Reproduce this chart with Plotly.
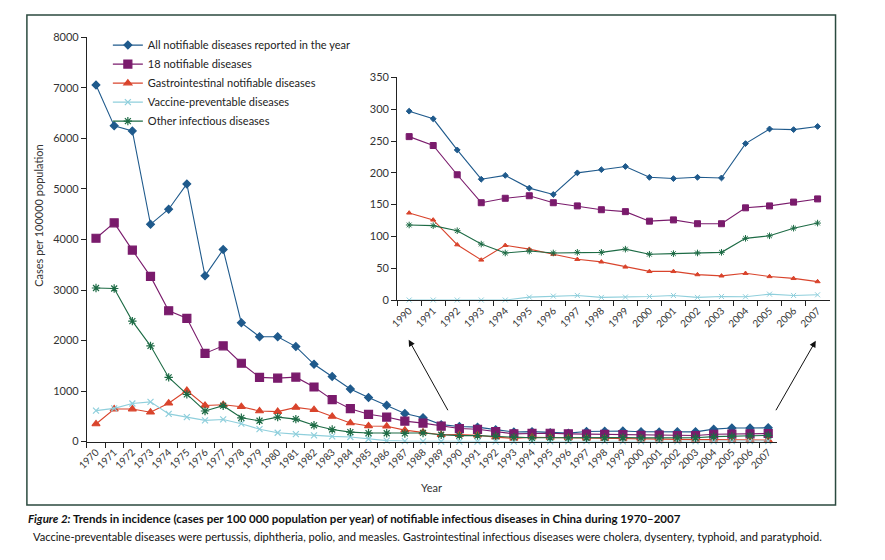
import plotly.graph_objects as go

years = [str(y) for y in range(1970, 2008)]
inset_years = years[20:]

all_notifiable = [7060, 6250, 6150, 4300, 4600, 5100, 3280, 3800, 2350, 2075, 2075, 1880, 1530, 1290, 1040,
                  870, 720, 555, 470, 335, 297, 285, 236, 190, 196, 176, 166, 200, 205, 210, 193, 191, 193,
                  192, 246, 269, 268, 273]
n18_notifiable = [4025, 4330, 3790, 3270, 2590, 2440, 1745, 1895, 1550, 1270, 1256, 1275, 1080, 830, 650,
                  540, 485, 405, 365, 305, 257, 243, 197, 153, 160, 164, 153, 148, 142, 139, 124, 126, 120,
                  120, 145, 148, 154, 159]
gastro = [348, 644, 644, 580, 760, 1010, 715, 728, 690, 605, 593, 676, 631, 496, 367, 309, 303, 226, 187,
          135, 137, 126, 87, 63, 86, 80, 72, 64, 60, 52, 45, 45, 40, 38, 42, 37, 34, 29]
vaccine = [612, 657, 754, 786, 548, 483, 419, 438, 354, 245, 174, 148, 122, 103, 90, 50, 19, 8, 4, 2,
           0, 0, 0, 0, 0, 4.6, 6.1, 7.2, 4.1, 4.6, 5.6, 7.2, 4.1, 5.6, 5.1, 9.2, 7.2, 8.2]
other = [3040, 3030, 2385, 1895, 1270, 935, 605, 710, 470, 412, 483, 444, 322, 238, 187, 168, 164, 160,
         170, 135, 118, 117, 109, 88, 74, 77, 74, 75, 75, 80, 72, 73, 74, 75, 97, 101, 113, 121]

series_names = ["All notifiable diseases reported in the year", "18 notifiable diseases",
                "Gastrointestinal notifiable diseases", "Vaccine-preventable diseases",
                "Other infectious diseases"]
series_values = [all_notifiable, n18_notifiable, gastro, vaccine, other]
colors = ["#1f5a8c", "#7a1b6c", "#d9442c", "#8fcfdc", "#1d6b45"]
symbols = ["diamond", "square", "triangle-up", "x-thin-open", "asterisk-open"]
main_sizes = [6, 8, 7, 6, 7]
inset_sizes = [4.5, 6, 4.5, 5, 5.5]

# page is offset by the default 8px body margin; keep the figure inside the 885x560 window
OFF = 8
W, H = 885 - 2 * OFF, 560 - 2 * OFF
FONT = "Lato"


def px(x):
    return (x - OFF) / W


def py(y):
    return (H - (y - OFF)) / H


fig = go.Figure()

for name, vals, c, s, ms, ims in zip(series_names, series_values, colors, symbols, main_sizes, inset_sizes):
    fig.add_trace(go.Scatter(
        x=years, y=vals, name=name, mode="lines+markers",
        line=dict(color=c, width=1.1),
        marker=dict(color=c, symbol=s, size=ms, line=dict(color=c, width=1.2)),
        cliponaxis=False, xaxis="x", yaxis="y"))
    fig.add_trace(go.Scatter(
        x=inset_years, y=vals[20:], name=name, mode="lines+markers", showlegend=False,
        line=dict(color=c, width=1.1),
        marker=dict(color=c, symbol=s, size=ims, line=dict(color=c, width=1.0)),
        cliponaxis=False, xaxis="x2", yaxis="y2"))

axis_common = dict(showline=True, linecolor="#222", linewidth=1, ticks="outside", ticklen=5,
                   tickcolor="#222", showgrid=False, zeroline=False,
                   tickfont=dict(family=FONT, size=10, color="#333"))
yfont = dict(family=FONT, size=11, color="#333")

fig.update_layout(
    width=W, height=H,
    margin=dict(l=0, r=0, t=0, b=0),
    paper_bgcolor="white", plot_bgcolor="rgba(0,0,0,0)",
    font=dict(family=FONT, color="#333"),
    xaxis=dict(domain=[px(76.8), px(776)], type="category", tickson="boundaries", tickangle=-45,
               range=[-0.5, len(years) - 0.5], anchor="y", **axis_common),
    yaxis=dict(domain=[py(445), py(31)], range=[0, 8000], tickvals=list(range(0, 8001, 1000)),
               anchor="x", **{**axis_common, "tickfont": yfont}),
    xaxis2=dict(domain=[px(391), px(829)], type="category", tickson="boundaries", tickangle=-45,
                range=[-0.5, len(inset_years) - 0.5], anchor="y2", **axis_common),
    yaxis2=dict(domain=[py(300), py(72)], range=[0, 350], tickvals=list(range(0, 351, 50)),
                anchor="x2", **{**axis_common, "tickfont": yfont}),
    legend=dict(x=px(98), y=py(24), xanchor="left", yanchor="top", bgcolor="rgba(0,0,0,0)",
                font=dict(family=FONT, size=11, color="#222"), tracegroupgap=0, itemwidth=30),
    showlegend=True,
)

fig.add_shape(type="rect", xref="paper", yref="paper", x0=px(16), x1=px(835), y0=py(510), y1=py(8),
              line=dict(color="#2b4a3f", width=1.5), fillcolor="rgba(0,0,0,0)")

annotations = [
    dict(text="Cases per 100000 population", x=px(27), y=py(214), textangle=-90, xanchor="center",
         font=dict(family=FONT, size=11, color="#333")),
    dict(text="Year", x=px(426), y=py(492), xanchor="center",
         font=dict(family=FONT, size=11, color="#333")),
    dict(text="<b><i>Figure 2:</i> Trends in incidence (cases per 100 000 population per year) of notifiable infectious diseases in China during 1970\u20132007</b>",
         x=px(15), y=py(524), xanchor="left", font=dict(family=FONT, size=11.5, color="#111")),
    dict(text="Vaccine-preventable diseases were pertussis, diphtheria, polio, and measles. Gastrointestinal infectious diseases were cholera, dysentery, typhoid, and paratyphoid.",
         x=px(20), y=py(542), xanchor="left", font=dict(family=FONT, size=11.1, color="#111")),
]
for a in annotations:
    fig.add_annotation(xref="paper", yref="paper", showarrow=False, yanchor="middle", **a)

for hx, hy, tx, ty in [(402.7, 340.7, 442.7, 412.7), (815, 341.7, 774.3, 412.7)]:
    fig.add_annotation(x=px(hx), y=py(hy), xref="paper", yref="paper", ax=tx - hx, ay=ty - hy,
                       showarrow=True, arrowhead=2, arrowsize=1.3, arrowwidth=1, arrowcolor="#111", text="")

fig.write_html("out.html")
